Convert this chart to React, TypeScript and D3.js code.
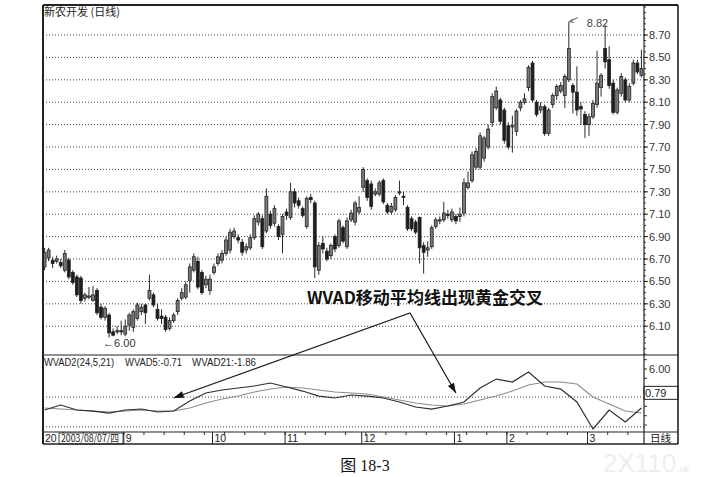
import React from 'react';
import * as d3 from 'd3';

// 新农开发 日K线: [开, 收, 高, 低]
const ohlc: [number, number, number, number][] = [
  [6.63, 6.76, 6.80, 6.60], [6.71, 6.78, 6.80, 6.68], [6.69, 6.66, 6.72, 6.62], [6.68, 6.70, 6.73, 6.66],
  [6.67, 6.64, 6.70, 6.62], [6.60, 6.75, 6.78, 6.58], [6.69, 6.54, 6.71, 6.52], [6.58, 6.49, 6.60, 6.47],
  [6.54, 6.38, 6.56, 6.36], [6.53, 6.33, 6.55, 6.30], [6.35, 6.38, 6.40, 6.32], [6.36, 6.37, 6.45, 6.34],
  [6.33, 6.38, 6.46, 6.32], [6.42, 6.22, 6.44, 6.20], [6.27, 6.18, 6.30, 6.16], [6.18, 6.26, 6.28, 6.15],
  [6.20, 6.04, 6.22, 6.00], [6.05, 6.02, 6.08, 6.01], [6.05, 6.06, 6.10, 6.03], [6.06, 6.05, 6.15, 6.02],
  [6.03, 6.10, 6.16, 6.01], [6.11, 6.20, 6.22, 6.06], [6.09, 6.23, 6.25, 6.05], [6.17, 6.29, 6.31, 6.15],
  [6.23, 6.27, 6.30, 6.20], [6.29, 6.22, 6.30, 6.12], [6.35, 6.42, 6.56, 6.33], [6.38, 6.29, 6.40, 6.27],
  [6.25, 6.17, 6.30, 6.15], [6.19, 6.17, 6.25, 6.12], [6.18, 6.07, 6.20, 6.05], [6.08, 6.15, 6.18, 6.06],
  [6.15, 6.20, 6.22, 6.13], [6.23, 6.33, 6.35, 6.20], [6.35, 6.40, 6.44, 6.33], [6.36, 6.47, 6.50, 6.34],
  [6.51, 6.63, 6.66, 6.40], [6.60, 6.72, 6.75, 6.58], [6.68, 6.45, 6.72, 6.43], [6.58, 6.40, 6.60, 6.38],
  [6.47, 6.52, 6.55, 6.44], [6.42, 6.52, 6.56, 6.38], [6.58, 6.63, 6.66, 6.56], [6.66, 6.72, 6.75, 6.64],
  [6.69, 6.75, 6.78, 6.66], [6.75, 6.87, 6.90, 6.73], [6.78, 6.94, 6.97, 6.75], [6.90, 6.95, 6.98, 6.88],
  [6.89, 6.87, 6.92, 6.84], [6.85, 6.76, 6.88, 6.73], [6.78, 6.81, 6.84, 6.75], [6.80, 6.89, 6.92, 6.78],
  [6.89, 7.06, 7.09, 6.87], [7.03, 7.10, 7.12, 7.00], [7.06, 6.81, 7.09, 6.79], [6.95, 7.26, 7.33, 6.93],
  [7.10, 7.00, 7.13, 6.97], [7.02, 7.15, 7.18, 6.99], [6.99, 6.90, 7.01, 6.87], [6.92, 7.08, 7.10, 6.75],
  [7.12, 7.09, 7.15, 7.05], [7.07, 7.30, 7.38, 7.05], [7.30, 7.20, 7.33, 7.16], [7.22, 7.18, 7.25, 7.15],
  [7.15, 7.09, 7.17, 7.07], [6.99, 7.24, 7.26, 6.97], [7.25, 7.23, 7.28, 7.20], [7.20, 6.63, 7.22, 6.53],
  [6.60, 6.82, 6.85, 6.56], [6.84, 6.79, 6.90, 6.75], [6.77, 6.70, 6.80, 6.68], [6.73, 6.82, 6.84, 6.70],
  [6.90, 6.79, 6.92, 6.76], [6.82, 7.04, 7.06, 6.80], [6.98, 6.86, 7.00, 6.84], [6.81, 7.04, 7.07, 6.79],
  [7.05, 7.11, 7.14, 7.03], [7.03, 7.20, 7.22, 7.00], [7.12, 7.16, 7.26, 7.10], [7.34, 7.50, 7.52, 7.30],
  [7.40, 7.25, 7.42, 7.22], [7.37, 7.17, 7.40, 7.14], [7.28, 7.30, 7.33, 7.26], [7.28, 7.38, 7.40, 7.26],
  [7.40, 7.21, 7.42, 7.19], [7.18, 7.12, 7.20, 7.10], [7.12, 7.17, 7.20, 7.10], [7.14, 7.25, 7.27, 7.12],
  [7.29, 7.30, 7.40, 7.27], [7.26, 7.25, 7.30, 7.18], [7.16, 6.97, 7.18, 6.95], [7.06, 6.97, 7.08, 6.95],
  [7.03, 6.94, 7.05, 6.92], [7.07, 6.80, 7.08, 6.66], [6.82, 6.76, 6.85, 6.57], [6.78, 6.80, 6.86, 6.72],
  [6.81, 6.98, 7.00, 6.79], [6.99, 7.05, 7.07, 6.97], [7.04, 7.05, 7.08, 7.01], [7.05, 7.11, 7.21, 7.03],
  [7.10, 7.09, 7.14, 7.06], [7.05, 7.12, 7.15, 7.03], [7.08, 7.04, 7.10, 7.01], [7.08, 7.10, 7.16, 7.03],
  [7.11, 7.38, 7.42, 7.08], [7.34, 7.38, 7.48, 7.32], [7.40, 7.63, 7.66, 7.38], [7.52, 7.66, 7.69, 7.50],
  [7.52, 7.80, 7.83, 7.50], [7.60, 7.78, 7.80, 7.57], [7.70, 7.86, 7.90, 7.68], [7.92, 8.15, 8.18, 7.88],
  [8.05, 8.20, 8.24, 8.03], [8.12, 7.93, 8.14, 7.90], [8.03, 7.76, 8.05, 7.73], [7.89, 7.70, 7.92, 7.68],
  [7.88, 7.89, 7.98, 7.65], [7.84, 8.02, 8.04, 7.80], [8.05, 8.10, 8.12, 8.02], [8.10, 8.13, 8.18, 8.08],
  [8.23, 8.41, 8.43, 8.20], [8.45, 8.12, 8.47, 8.10], [8.10, 7.99, 8.12, 7.97], [8.03, 8.06, 8.10, 8.00],
  [8.06, 7.82, 8.08, 7.80], [7.82, 8.03, 8.05, 7.80], [8.08, 8.16, 8.18, 8.05], [8.16, 8.24, 8.26, 8.12],
  [8.20, 8.25, 8.28, 8.18], [8.16, 8.33, 8.35, 8.05], [8.30, 8.58, 8.82, 8.28], [8.25, 8.19, 8.27, 8.00],
  [8.19, 8.03, 8.42, 7.98], [8.06, 8.04, 8.10, 7.90], [7.99, 7.90, 8.02, 7.78], [7.90, 7.97, 8.00, 7.80],
  [7.97, 8.09, 8.12, 7.95], [8.08, 8.27, 8.56, 8.05], [8.23, 8.34, 8.36, 8.15], [8.58, 8.46, 8.79, 8.40],
  [8.48, 8.25, 8.60, 8.22], [8.27, 8.01, 8.30, 7.99], [8.01, 8.21, 8.23, 7.99], [8.18, 8.33, 8.36, 8.15],
  [8.30, 8.12, 8.32, 8.10], [8.12, 8.24, 8.27, 8.10], [8.27, 8.45, 8.48, 8.25], [8.45, 8.37, 8.48, 8.35],
  [8.34, 8.40, 8.57, 8.32],
];

const priceTicks = [6.10, 6.30, 6.50, 6.70, 6.90, 7.10, 7.30, 7.50, 7.70, 7.90, 8.10, 8.30, 8.50, 8.70];

// 月份分隔 (K线序号) 与标签
const monthIdx = [20, 42, 60, 79, 102, 115, 135];
const monthLabels = ['9', '10', '11', '12', '1', '2', '3'];

// WVAD 指标, 每4根K线读一次
const wvadIdx = [0, 4, 8, 12, 16, 20, 24, 28, 32, 36, 40, 44, 48, 52, 56, 60, 64, 68, 72, 76, 80, 84, 88, 92, 96,
  100, 104, 108, 112, 116, 120, 124, 128, 132, 136, 140, 144, 148];
const wvad5 = [-2.78, -1.71, -2.78, -3.0, -3.43, -2.78, -2.57, -3.21, -3.0, -0.86, 0.86, 1.5, 1.93, 2.36, 3.0, 2.14,
  1.28, 0.21, -0.21, 0.43, 0.21, -0.21, -1.07, -2.14, -2.57, -1.93, -1.07, 1.93, 3.85, 3.21, 5.35, 2.36, 1.71,
  -1.07, -6.85, -2.78, -5.35, -2.36];
const wvad21 = [-2.36, -2.57, -2.78, -3.0, -3.21, -3.0, -2.78, -3.0, -3.0, -2.36, -1.28, -0.43, 0.21, 1.07, 1.71,
  2.14, 1.93, 1.5, 1.07, 0.86, 0.64, 0.0, -0.64, -1.28, -1.71, -1.93, -1.5, -0.64, 0.21, 1.28, 2.57, 3.21, 3.21,
  2.78, 0.0, -1.5, -3.0, -3.43];
const wvadGrid = [0, -6.4];

const NUM = "'Liberation Sans', Arial, sans-serif";
const CJK = "'Noto Sans CJK SC', 'Liberation Sans', sans-serif";

// 画一个箭头的三角头
function arrowHead(x1: number, y1: number, x2: number, y2: number, len = 10, half = 3.5) {
  const dx = x2 - x1, dy = y2 - y1;
  const d = Math.hypot(dx, dy);
  const ux = dx / d, uy = dy / d;
  const bx = x2 - ux * len, by = y2 - uy * len;
  return `M${x2},${y2}L${bx - uy * half},${by + ux * half}L${bx + uy * half},${by - ux * half}Z`;
}

export default function App() {
  const L = 43, R = 644, FR = 678, T = 5, MB = 355, IB = 432, B = 444;
  const n = ohlc.length;

  const x = d3.scaleBand<number>().domain(d3.range(n)).range([L - 1, R]).padding(0.28);
  const cx = (i: number) => (x(i) ?? 0) + x.bandwidth() / 2;
  const y = d3.scaleLinear().domain([5.843, 8.968]).range([MB, T]);
  const yw = d3.scaleLinear().domain([-7.49, 9.0]).range([IB, MB]);

  const line = d3.line<number>().x((_, k) => cx(wvadIdx[k])).y(d => yw(d));

  const minorPrice = d3.range(5.85, 8.96, 0.05);
  const minI = d3.minIndex(ohlc, d => d[3]);
  const maxI = d3.maxIndex(ohlc, d => d[2]);

  const apex: [number, number] = [410, 313];
  const tipL: [number, number] = [cx(32), yw(-0.2)];
  const tipR: [number, number] = [cx(102), yw(0.85)];

  return (
    <svg width={722} height={477} style={{ position: 'absolute', left: 0, top: 0, background: '#fff' }}>
      {/* 价格网格 */}
      {priceTicks.map(p => (
        <line key={p} x1={L} x2={R} y1={y(p)} y2={y(p)} stroke="#444" strokeDasharray="1 2" strokeWidth={1} />
      ))}
      {/* 右侧刻度 */}
      {minorPrice.map((p, k) => (
        <line key={k} x1={R} x2={R + 2} y1={y(p)} y2={y(p)} stroke="#333" />
      ))}
      {priceTicks.map(p => (
        <g key={p}>
          <line x1={R} x2={R + 4} y1={y(p)} y2={y(p)} stroke="#222" />
          <text x={R + 5} y={y(p) + 4} fontSize={11} fontFamily={NUM} fill="#333">{p.toFixed(2)}</text>
        </g>
      ))}

      {/* K线 */}
      {ohlc.map(([o, c, h, l], i) => {
        const up = c >= o;
        const top = y(Math.max(o, c));
        const hgt = Math.max(1.2, y(Math.min(o, c)) - top);
        return (
          <g key={i}>
            <line x1={cx(i)} x2={cx(i)} y1={y(h)} y2={y(l)} stroke="#2a2a2a" strokeWidth={1} />
            <rect x={x(i)} y={top} width={x.bandwidth()} height={hgt}
              fill={up ? '#7a7a7a' : '#1e1e1e'} stroke="#222" strokeWidth={0.8} />
          </g>
        );
      })}

      {/* 最高/最低标注 */}
      <text x={cx(maxI) + 18} y={y(8.82) + 5} fontSize={11} fontFamily={NUM} fill="#444">8.82</text>
      <path d={`M${cx(maxI) + 9},${y(8.82) - 4}L${cx(maxI) + 1},${y(8.82)}M${cx(maxI) + 1},${y(8.82)}l4,1M${cx(maxI) + 1},${y(8.82)}l3,-3`}
        fill="none" stroke="#444" strokeWidth={0.9} />
      <text x={cx(minI) - 6} y={y(ohlc[minI][3]) + 10} fontSize={11} fontFamily={NUM} fill="#333">←6.00</text>

      {/* 指标区 */}
      {wvadGrid.map(v => (
        <line key={v} x1={L} x2={R} y1={yw(v)} y2={yw(v)} stroke="#444" strokeDasharray="1 2" />
      ))}
      {d3.range(-6, 9, 2).map(v => (
        <line key={v} x1={R} x2={R + 3} y1={yw(v)} y2={yw(v)} stroke="#333" />
      ))}
      <text x={R + 5} y={yw(6) + 4} fontSize={11} fontFamily={NUM} fill="#333">6.00</text>
      <path d={line(wvad21) ?? ''} fill="none" stroke="#8c8c8c" strokeWidth={1.1} />
      <path d={line(wvad5) ?? ''} fill="none" stroke="#2e2e2e" strokeWidth={1.2} />
      <rect x={R} y={yw(0.79) - 7} width={FR - R} height={13} fill="#fff" stroke="#222" />
      <text x={R + 1} y={yw(0.79) + 4} fontSize={11} fontFamily={NUM} fill="#222">0.79</text>
      <text x={L + 1} y={366} fontSize={10} fontFamily={NUM} fill="#222" textLength={70} lengthAdjust="spacingAndGlyphs">WVAD2(24,5,21)</text>
      <text x={125} y={366} fontSize={10} fontFamily={NUM} fill="#222" textLength={57} lengthAdjust="spacingAndGlyphs">WVAD5:-0.71</text>
      <text x={192} y={366} fontSize={10} fontFamily={NUM} fill="#222" textLength={64} lengthAdjust="spacingAndGlyphs">WVAD21:-1.86</text>

      {/* 日期轴 */}
      {d3.range(0, n, 5).map(i => (
        <line key={i} x1={x(i)} x2={x(i)} y1={IB} y2={IB + 3} stroke="#333" />
      ))}
      {monthIdx.map((i, k) => (
        <g key={i}>
          <line x1={x(i)} x2={x(i)} y1={IB} y2={B} stroke="#222" />
          <text x={(x(i) ?? 0) + 2} y={B - 2} fontSize={10.5} fontFamily={NUM} fill="#222">{monthLabels[k]}</text>
        </g>
      ))}
      <text x={L + 2} y={B - 2} fontSize={10.5} fontFamily={NUM} fill="#222">20</text>
      <rect x={59} y={IB + 1} width={64} height={B - IB - 1} fill="#fff" stroke="#222" strokeWidth={0.8} />
      <text x={61} y={B - 2} fontSize={10} fontFamily={CJK} fill="#222" textLength={58} lengthAdjust="spacingAndGlyphs">2003/08/07/四</text>
      <text x={R + 6} y={B - 2} fontSize={10.5} fontFamily={CJK} fill="#222">日线</text>

      {/* 边框 */}
      <line x1={L} x2={FR} y1={T} y2={T} stroke="#222" strokeWidth={2} />
      <line x1={L} x2={L} y1={T} y2={B} stroke="#222" strokeWidth={2} />
      <line x1={FR} x2={FR} y1={T} y2={B} stroke="#222" strokeWidth={1.6} />
      <line x1={L} x2={FR} y1={B} y2={B} stroke="#222" strokeWidth={1.6} />
      <line x1={R} x2={R} y1={T} y2={B} stroke="#222" strokeWidth={1.2} />
      <line x1={L} x2={FR} y1={MB} y2={MB} stroke="#222" strokeWidth={1} />
      <line x1={L} x2={FR} y1={IB} y2={IB} stroke="#222" strokeWidth={1.2} />

      <text x={L + 1} y={16} fontSize={11} fontFamily={CJK} fill="#222">新农开发 (日线)</text>

      {/* 注释与箭头 */}
      <text x={307} y={304} fontSize={17} fontWeight={700} fontFamily={CJK} fill="#111"
        textLength={236} lengthAdjust="spacingAndGlyphs">WVAD移动平均线出现黄金交叉</text>
      <path d={`M${tipL[0]},${tipL[1]}L${apex[0]},${apex[1]}L${tipR[0]},${tipR[1]}`} fill="none" stroke="#1a1a1a" strokeWidth={1.2} />
      <path d={arrowHead(apex[0], apex[1], tipL[0], tipL[1])} fill="#111" />
      <path d={arrowHead(apex[0], apex[1], tipR[0], tipR[1])} fill="#111" />

      <text x={365} y={471} textAnchor="middle" fontSize={16} fontFamily={"'Liberation Serif', 'Noto Sans CJK SC', serif"} fill="#111">图 18-3</text>
      <text x={603} y={472} fontSize={26} fontFamily={NUM} fill="#eeeeee">2X110</text>
      <text x={677} y={472} fontSize={9} fontFamily={NUM} fill="#e6e6e6">.uk</text>
    </svg>
  );
}
